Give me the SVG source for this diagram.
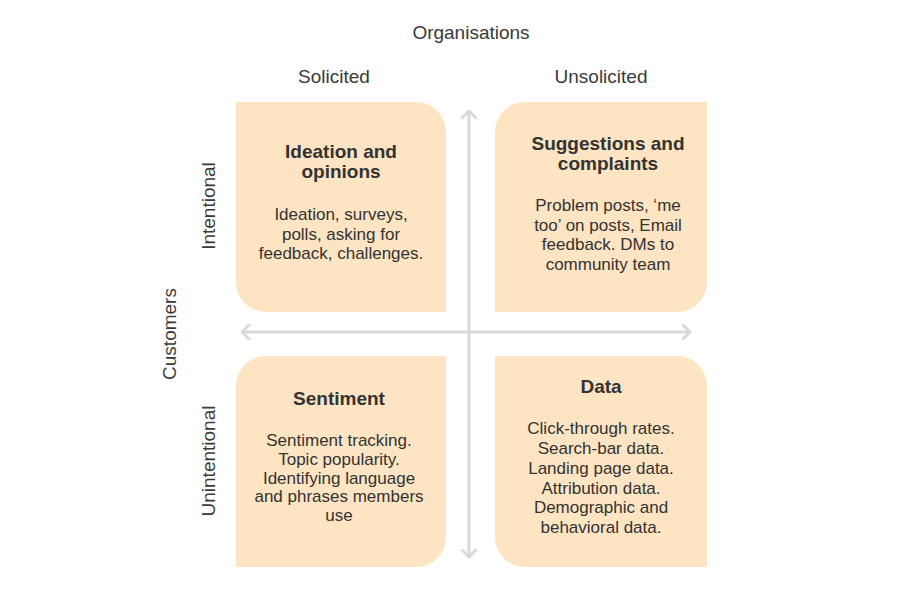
<svg xmlns="http://www.w3.org/2000/svg" width="900" height="600" viewBox="0 0 900 600">
<defs>
<style>
.box{fill:#FDE4C2;}
.lbl{font-family:"Liberation Sans",Arial,sans-serif;font-size:19px;fill:#3a3a3a;text-anchor:middle;}
.ttl{font-family:"Liberation Sans",Arial,sans-serif;font-size:19px;font-weight:bold;fill:#333;text-anchor:middle;}
.body{font-family:"Liberation Sans",Arial,sans-serif;font-size:17px;fill:#333;text-anchor:middle;}
.axis{stroke:#D9D9D9;stroke-width:3;fill:none;}
</style>
<marker id="chev" viewBox="0 0 10 16" markerWidth="10" markerHeight="16" refX="8.5" refY="8" orient="auto-start-reverse" markerUnits="userSpaceOnUse">
<path d="M1.5,1 L8.5,8 L1.5,15" fill="none" stroke="#D9D9D9" stroke-width="3" stroke-linecap="round" stroke-linejoin="round"/>
</marker>
</defs>
<rect width="900" height="600" fill="#ffffff"/>
<g id="axis-labels">
<text class="lbl" x="471" y="39">Organisations</text>
<text class="lbl" x="334" y="83">Solicited</text>
<text class="lbl" x="601" y="83">Unsolicited</text>
<text class="lbl" transform="translate(215,206) rotate(-90)">Intentional</text>
<text class="lbl" transform="translate(176,334) rotate(-90)">Customers</text>
<text class="lbl" transform="translate(215,461) rotate(-90)">Unintentional</text>
</g>
<g id="q-ideation">
<path class="box" d="M236,102 H416 A30,30 0 0 1 446,132 V312 H266 A30,30 0 0 1 236,282 Z"/>
<text class="ttl" x="341" y="158">Ideation and</text>
<text class="ttl" x="341" y="178">opinions</text>
<text class="body" x="341" y="220">Ideation, surveys,</text>
<text class="body" x="341" y="240">polls, asking for</text>
<text class="body" x="341" y="259">feedback, challenges.</text>
</g>
<g id="q-suggestions">
<path class="box" d="M525,102 H707 V282 A30,30 0 0 1 677,312 H495 V132 A30,30 0 0 1 525,102 Z"/>
<text class="ttl" x="608" y="150">Suggestions and</text>
<text class="ttl" x="608" y="170">complaints</text>
<text class="body" x="608" y="211">Problem posts, ‘me</text>
<text class="body" x="608" y="231">too’ on posts, Email</text>
<text class="body" x="608" y="250">feedback. DMs to</text>
<text class="body" x="608" y="270">community team</text>
</g>
<g id="q-sentiment">
<path class="box" d="M266,356 H446 V537 A30,30 0 0 1 416,567 H236 V386 A30,30 0 0 1 266,356 Z"/>
<text class="ttl" x="339" y="405">Sentiment</text>
<text class="body" x="339" y="446">Sentiment tracking.</text>
<text class="body" x="339" y="465">Topic popularity.</text>
<text class="body" x="339" y="484">Identifying language</text>
<text class="body" x="339" y="502">and phrases members</text>
<text class="body" x="339" y="521">use</text>
</g>
<g id="q-data">
<path class="box" d="M495,356 H677 A30,30 0 0 1 707,386 V567 H525 A30,30 0 0 1 495,537 Z"/>
<text class="ttl" x="601" y="393">Data</text>
<text class="body" x="601" y="434">Click-through rates.</text>
<text class="body" x="601" y="454">Search-bar data.</text>
<text class="body" x="601" y="474">Landing page data.</text>
<text class="body" x="601" y="494">Attribution data.</text>
<text class="body" x="601" y="513">Demographic and</text>
<text class="body" x="601" y="533">behavioral data.</text>
</g>
<g id="connectors">
<line class="axis" x1="469" y1="111" x2="469" y2="557" marker-start="url(#chev)" marker-end="url(#chev)"/>
<line class="axis" x1="242" y1="332" x2="690" y2="332" marker-start="url(#chev)" marker-end="url(#chev)"/>
</g>
</svg>
